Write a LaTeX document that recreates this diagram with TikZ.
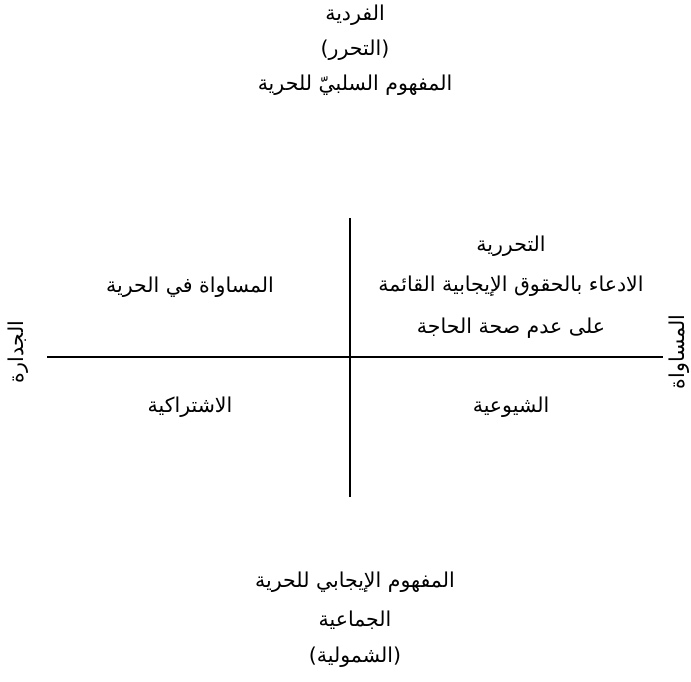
\documentclass[tikz,border=0pt]{standalone}
\usepackage{fontspec}
\newfontfamily\arabicfont[Script=Arabic]{DejaVu Sans}
\TeXXeTstate=1
\usetikzlibrary{positioning}
\tikzset{lbl/.style={font=\arabicfont\fontsize{20.5}{24}\selectfont, inner sep=1pt},
  axis/.style={line width=2pt}}

\begin{document}
\begin{tikzpicture}[x=1pt,y=1pt]
  \useasboundingbox (0,0) rectangle (691,682);
  % axes
  \coordinate (west) at (47,325);
  \coordinate (east) at (663,325);
  \coordinate (north) at (350,464);
  \coordinate (south) at (350,185);
  \draw[axis] (west) -- (east);
  \draw[axis] (north) -- (south);
  % top
  \node[lbl] (ind) at (355,667) {\beginR الفردية\endR};
  \node[lbl] (lib) at (355,632) {\beginR (التحرر)\endR};
  \node[lbl] (neg) at (355,597) {\beginR المفهوم السلبيّ للحرية\endR};
  % quadrants
  \node[lbl] (eqlib) at (190,395) {\beginR المساواة في الحرية\endR};
  \node[lbl] (libt) at (511,436) {\beginR التحررية\endR};
  \node[lbl] (claim) at (511,396) {\beginR الادعاء بالحقوق الإيجابية القائمة\endR};
  \node[lbl] (need) at (511,354) {\beginR على عدم صحة الحاجة\endR};
  \node[lbl] (soc) at (190,275) {\beginR الاشتراكية\endR};
  \node[lbl] (com) at (511,275) {\beginR الشيوعية\endR};
  % sides
  \node[lbl, rotate=90] (merit) at (18,330) {\beginR الجدارة\endR};
  \node[lbl, rotate=90] (equal) at (679,330) {\beginR المساواة\endR};
  % bottom
  \node[lbl] (pos) at (355,100) {\beginR المفهوم الإيجابي للحرية\endR};
  \node[lbl] (coll) at (355,62) {\beginR الجماعية\endR};
  \node[lbl] (tot) at (355,25) {\beginR (الشمولية)\endR};
\end{tikzpicture}
\end{document}
